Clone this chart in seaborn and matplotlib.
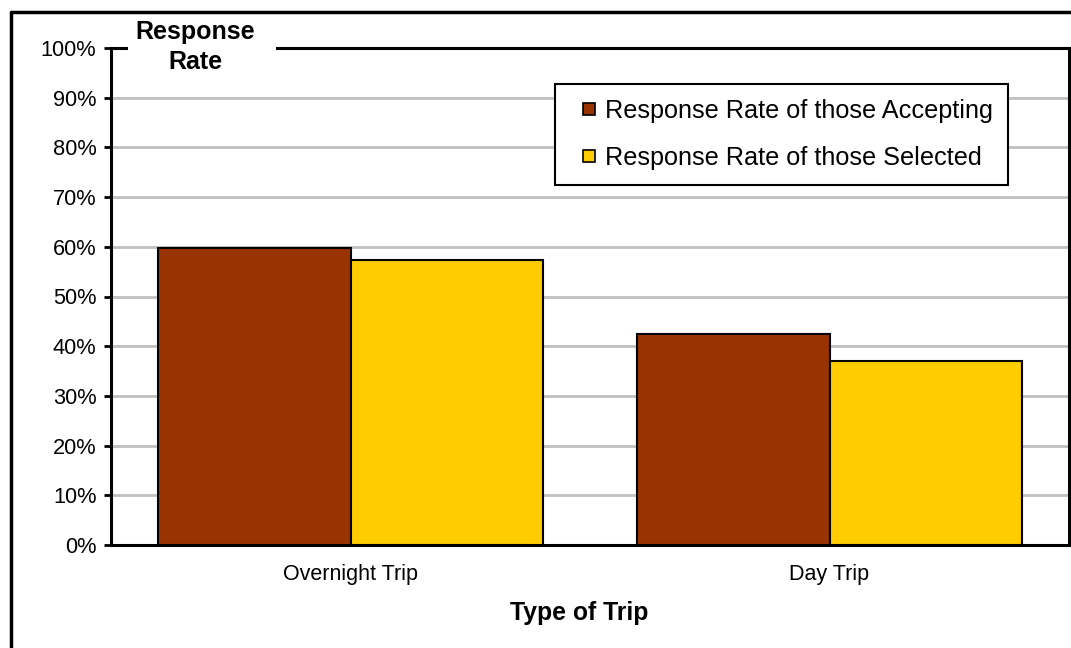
import matplotlib
matplotlib.use("Agg")
import matplotlib.pyplot as plt
from matplotlib.lines import Line2D
from matplotlib.patches import Rectangle
from matplotlib.legend_handler import HandlerPatch
from matplotlib.ticker import PercentFormatter
import seaborn as sns
import pandas as pd

# Response rates by trip type (percent)
trip_types = ["Overnight Trip", "Day Trip"]
series_names = ["Response Rate of those Accepting", "Response Rate of those Selected"]
accepting = [59.8, 42.5]
selected = [57.3, 37.0]
y_ticks = [0, 10, 20, 30, 40, 50, 60, 70, 80, 90, 100]

df = pd.DataFrame({
    "Type of Trip": trip_types * 2,
    "Series": [series_names[0]] * len(trip_types) + [series_names[1]] * len(trip_types),
    "Rate": accepting + selected,
})

sns.set_theme(style="white")
plt.rcParams["font.family"] = ["Liberation Sans", "DejaVu Sans"]
plt.rcParams["text.color"] = "black"

W, H = 1071, 648
fig = plt.figure(figsize=(W / 100, H / 100), dpi=100)
ax = fig.add_axes([111 / W, 1 - 545 / H, 958 / W, 497 / H])

sns.barplot(
    data=df, x="Type of Trip", y="Rate", hue="Series",
    order=trip_types, hue_order=series_names,
    palette=["#993300", "#FFCC00"], width=0.805, gap=0,
    edgecolor="black", linewidth=1.5, saturation=1, ax=ax, zorder=3,
)

ax.set_ylim(0, 100)
ax.set_xlim(-0.5, 1.5)
ax.set_yticks(y_ticks)
ax.yaxis.set_major_formatter(PercentFormatter(decimals=0))
ax.yaxis.grid(True, color="#c0c0c0", linewidth=2, zorder=0)
ax.set_axisbelow(True)

for side in ["left", "bottom", "right", "top"]:
    ax.spines[side].set_visible(True)
    ax.spines[side].set_color("black")
    ax.spines[side].set_linewidth(2.2)

ax.tick_params(axis="y", which="major", left=True, length=5, width=2,
               color="black", labelsize=15.7, pad=5.5, labelcolor="black")
ax.tick_params(axis="x", length=0, labelsize=15.5, pad=14, labelcolor="black")

ax.set_ylabel("")
ax.set_xlabel("Type of Trip", fontsize=17.8, fontweight="bold", color="black")
ax.xaxis.set_label_coords((579.5 - 111) / 958, -(613 - 545) / 497)
ax.xaxis.label.set_va("center")

# y-axis title sits on the top edge of the plot frame
ax.add_patch(Rectangle(((128 - 111) / 958, 0.98), (276 - 128) / 958, 0.04,
                       transform=ax.transAxes, facecolor="white",
                       edgecolor="none", clip_on=False, zorder=9))
ax.text((195 - 111) / 958, (545 - 47) / 497, "Response\nRate",
        transform=ax.transAxes, ha="center", va="center", fontsize=18,
        fontweight="bold", linespacing=1.3, multialignment="center",
        color="black", zorder=10)


def square_handle(legend, orig_handle, xdescent, ydescent, width, height, fontsize):
    side = 8.8
    return Rectangle((-xdescent + width - side, -ydescent + (height - side) / 2),
                     side, side)


leg = ax.legend(
    loc="upper left", bbox_to_anchor=((555 - 111) / 958, (545 - 84) / 497),
    fontsize=18.2, frameon=True, fancybox=False, framealpha=1,
    edgecolor="black", handlelength=1.0, handleheight=0.55,
    handletextpad=0.36, borderpad=0.6, borderaxespad=0,
    labelspacing=0.9, labelcolor="black",
    handler_map={Rectangle: HandlerPatch(patch_func=square_handle)},
)
leg.get_frame().set_linewidth(1.5)
leg.set_zorder(11)
for h in leg.legend_handles:
    h.set_edgecolor("black")
    h.set_linewidth(1.2)

# outer chart-area frame (left and top edges)
fig.add_artist(Line2D([11 / W, 11 / W], [0, 1 - 12 / H],
                      transform=fig.transFigure, color="black", linewidth=2.5))
fig.add_artist(Line2D([11 / W, 1], [1 - 12 / H, 1 - 12 / H],
                      transform=fig.transFigure, color="black", linewidth=2.5))

fig.savefig("out.png", dpi=100, facecolor="white")
